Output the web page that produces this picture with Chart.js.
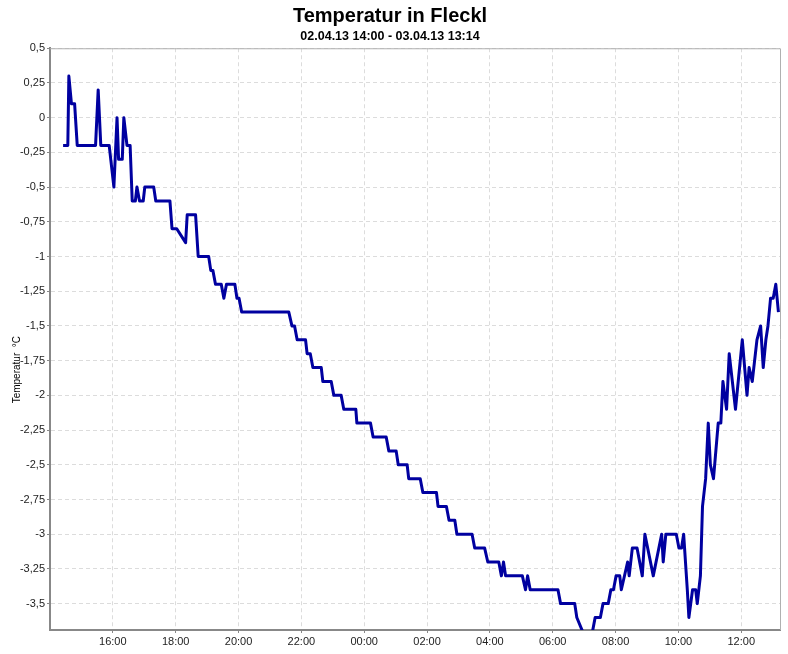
<!DOCTYPE html>
<html>
<head>
<meta charset="utf-8">
<script src="https://cdn.jsdelivr.net/npm/chart.js@4/dist/chart.umd.min.js"></script>
<style>
  html, body { margin: 0; padding: 0; background: #fff; }
  #wrap { width: 788px; height: 654px; }
</style>
</head>
<body>
<div id="wrap"><canvas id="chart" width="788" height="654"></canvas></div>
<script>
// Messzeitpunkte (02.04.13 14:25 bis 03.04.13 13:11)
const times = [
  '14:25', '14:34', '14:36', '14:41', '14:47', '14:52', '15:27', '15:32', '15:37', '15:53',
  '16:02', '16:08', '16:11', '16:18', '16:21', '16:27', '16:33', '16:37', '16:43', '16:46',
  '16:51', '16:58', '17:01', '17:18', '17:22', '17:49', '17:53', '18:02', '18:19', '18:22',
  '18:38', '18:43', '19:03', '19:07', '19:11', '19:16', '19:27', '19:32', '19:37', '19:53',
  '19:57', '20:01', '20:06', '21:36', '21:42', '21:47', '21:52', '22:08', '22:11', '22:17',
  '22:22', '22:38', '22:41', '22:57', '23:02', '23:16', '23:21', '23:44', '23:46', '00:12',
  '00:17', '00:42', '00:47', '01:01', '01:05', '01:22', '01:25', '01:47', '01:52', '02:18',
  '02:21', '02:37', '02:42', '02:53', '02:57', '03:26', '03:31', '03:50', '03:56', '04:17',
  '04:22', '04:26', '04:30', '05:02', '05:08', '05:12', '05:17', '06:10', '06:15', '06:42',
  '06:46', '06:57', '07:16', '07:21', '07:31', '07:36', '07:46', '07:51', '07:56', '08:01',
  '08:08', '08:11', '08:23', '08:26', '08:32', '08:41', '08:51', '08:56', '09:12', '09:28',
  '09:31', '09:36', '09:56', '10:01', '10:06', '10:10', '10:17', '10:20', '10:27', '10:33',
  '10:36', '10:42', '10:46', '10:52', '10:57', '11:01', '11:07', '11:16', '11:21', '11:25',
  '11:32', '11:37', '11:49', '12:02', '12:11', '12:15', '12:21', '12:30', '12:37', '12:42',
  '12:47', '12:51', '12:56', '13:01', '13:06', '13:11'
];

// Temperatur in °C
const temps = [
  -0.2, -0.2, 0.3, 0.1, 0.1, -0.2, -0.2, 0.2, -0.2, -0.2,
  -0.5, 0, -0.3, -0.3, 0, -0.2, -0.2, -0.6, -0.6, -0.5,
  -0.6, -0.6, -0.5, -0.5, -0.6, -0.6, -0.8, -0.8, -0.9, -0.7,
  -0.7, -1.0, -1.0, -1.1, -1.1, -1.2, -1.2, -1.3, -1.2, -1.2,
  -1.3, -1.3, -1.4, -1.4, -1.5, -1.5, -1.6, -1.6, -1.7, -1.7,
  -1.8, -1.8, -1.9, -1.9, -2.0, -2.0, -2.1, -2.1, -2.2, -2.2,
  -2.3, -2.3, -2.4, -2.4, -2.5, -2.5, -2.6, -2.6, -2.7, -2.7,
  -2.8, -2.8, -2.9, -2.9, -3.0, -3.0, -3.1, -3.1, -3.2, -3.2,
  -3.3, -3.2, -3.3, -3.3, -3.4, -3.3, -3.4, -3.4, -3.5, -3.5,
  -3.6, -3.7, -3.7, -3.6, -3.6, -3.5, -3.5, -3.4, -3.4, -3.3,
  -3.3, -3.4, -3.2, -3.3, -3.1, -3.1, -3.3, -3.0, -3.3, -3.0,
  -3.2, -3.0, -3.0, -3.1, -3.1, -3.0, -3.4, -3.6, -3.4, -3.4,
  -3.5, -3.3, -2.8, -2.6, -2.2, -2.5, -2.6, -2.2, -2.2, -1.9,
  -2.1, -1.7, -2.1, -1.6, -2.0, -1.8, -1.9, -1.6, -1.5, -1.8,
  -1.6, -1.5, -1.3, -1.3, -1.2, -1.4
];

// Achsen
const xTickHours = [16, 18, 20, 22, 24, 26, 28, 30, 32, 34, 36];
const yTicks = [0.5, 0.25, 0, -0.25, -0.5, -0.75, -1, -1.25, -1.5, -1.75, -2, -2.25, -2.5, -2.75, -3, -3.25, -3.5];
const xMin = 14;            // 02.04.13 14:00
const xMax = 37 + 14 / 60;  // 03.04.13 13:14
const yMin = -3.69;
const yMax = 0.5;

// Uhrzeit in Stunden seit 02.04. 00:00 umrechnen
function toHours(t) {
    const [h, m] = t.split(':').map(Number);
    let val = h + m / 60;
    if (val < 14) val += 24;
    return val;
}

function pad(n) {
    return (n < 10 ? '0' : '') + n;
}

const points = times.map((t, i) => ({ x: toHours(t), y: temps[i] }));

// Rahmen oben und rechts
const frame = {
    id: 'frame',
    beforeDatasetsDraw(chart) {
        const { ctx, chartArea: a } = chart;
        ctx.save();
        ctx.strokeStyle = '#b0b0b0';
        ctx.lineWidth = 1;
        ctx.beginPath();
        ctx.moveTo(a.left, a.top + 0.5);
        ctx.lineTo(a.right + 0.5, a.top + 0.5);
        ctx.lineTo(a.right + 0.5, a.bottom);
        ctx.stroke();
        ctx.restore();
    }
};

const tickFont = { family: "'Liberation Sans', Arial, sans-serif", size: 11 };

new Chart(document.getElementById('chart').getContext('2d'), {
    type: 'line',
    data: {
        datasets: [{
            label: 'Temperatur',
            data: points,
            borderColor: '#0000a0',
            borderWidth: 3,
            borderJoinStyle: 'round',
            pointRadius: 0,
            tension: 0,
            fill: false
        }]
    },
    options: {
        responsive: false,
        animation: false,
        layout: { padding: { left: 0, right: 8, top: 0, bottom: 0 } },
        plugins: {
            legend: { display: false },
            tooltip: { enabled: false },
            title: {
                display: true,
                text: 'Temperatur in Fleckl',
                color: '#000',
                font: { family: "'Liberation Sans', Arial, sans-serif", size: 20, weight: 'bold', lineHeight: 1.1 },
                padding: { top: 5, bottom: 2 }
            },
            subtitle: {
                display: true,
                text: '02.04.13 14:00 - 03.04.13 13:14',
                color: '#000',
                font: { family: "'Liberation Sans', Arial, sans-serif", size: 12.5, weight: 'bold', lineHeight: 1.1 },
                padding: { top: 1, bottom: 4.5 }
            }
        },
        scales: {
            x: {
                type: 'linear',
                min: xMin,
                max: xMax,
                afterBuildTicks: (scale) => {
                    scale.ticks = xTickHours.map(v => ({ value: v }));
                },
                afterFit: (scale) => { scale.height = 24; },
                ticks: {
                    font: tickFont,
                    color: '#222',
                    padding: 2,
                    maxRotation: 0,
                    autoSkip: false,
                    callback: (v) => pad(v % 24) + ':00'
                },
                grid: { color: '#dcdcdc', tickColor: '#888', tickLength: 3 },
                border: { color: '#888', width: 2, dash: [4, 3] }
            },
            y: {
                min: yMin,
                max: yMax,
                afterBuildTicks: (scale) => {
                    scale.ticks = yTicks.map(v => ({ value: v }));
                },
                afterFit: (scale) => { scale.width = 50; },
                ticks: {
                    font: tickFont,
                    color: '#222',
                    padding: 2,
                    autoSkip: false,
                    callback: (v) => String(v).replace('.', ',')
                },
                grid: { color: '#dcdcdc', tickColor: '#888', tickLength: 3 },
                border: { color: '#888', width: 2, dash: [4, 3] },
                title: {
                    display: true,
                    // Leerzeichen am Ende schieben den Text etwas nach unten
                    text: 'Temperatur  °C                      ',
                    color: '#000',
                    font: { family: "'Liberation Sans', Arial, sans-serif", size: 10 },
                    padding: { top: 11, bottom: 0 }
                }
            }
        }
    },
    plugins: [frame]
});
</script>
</body>
</html>
